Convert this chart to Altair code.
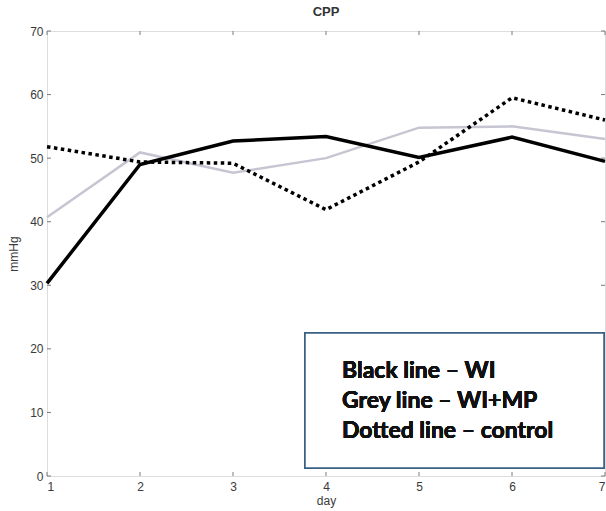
import altair as alt
import pandas as pd

days = [1, 2, 3, 4, 5, 6, 7]
wi = [30.3, 49.0, 52.7, 53.4, 50.1, 53.3, 49.5]
wi_mp = [40.7, 50.9, 47.7, 50.0, 54.8, 55.0, 53.0]
control = [51.8, 49.4, 49.2, 41.9, 49.4, 59.5, 56.0]
y_ticks = [0, 10, 20, 30, 40, 50, 60, 70]
legend_lines = ["Black line \u2013 WI", "Grey line \u2013 WI+MP", "Dotted line \u2013 control"]

W, H = 558, 445
AX = "#7a7a7a"
FONT = "Liberation Sans"
TXT = "#3a3a3a"

df = pd.DataFrame({"day": days, "WI": wi, "WI+MP": wi_mp, "control": control})
xt = pd.DataFrame({"day": days})
yt = pd.DataFrame({"v": y_ticks})

xscale = alt.Scale(domain=[1, 7], nice=False, zero=False)
yscale = alt.Scale(domain=[0, 70], nice=False)

x_enc = alt.X("day:Q", scale=xscale, title="day",
              axis=alt.Axis(values=days, tickSize=0, domain=False, grid=False,
                            labelPadding=5, titlePadding=3, format="d",
                            labelFont=FONT, labelFontSize=12, labelColor=TXT,
                            titleFont=FONT, titleFontSize=12, titleFontWeight="normal",
                            titleColor=TXT))
y_axis = alt.Axis(values=y_ticks, tickSize=0, domain=False, grid=False,
                  labelPadding=4, titlePadding=9,
                  labelFont=FONT, labelFontSize=12, labelColor=TXT,
                  titleFont=FONT, titleFontSize=12, titleFontWeight="normal",
                  titleColor=TXT)

def line(col, color, width, dash=None):
    kw = dict(color=color, strokeWidth=width, strokeCap="butt", strokeJoin="miter")
    if dash:
        kw["strokeDash"] = dash
    return alt.Chart(df).mark_line(**kw).encode(
        x=x_enc, y=alt.Y(f"{col}:Q", scale=yscale, title="mmHg", axis=y_axis))

grey = line("WI+MP", "#c6c6d3", 2.5)
black = line("WI", "#000000", 3.5)
dotted = line("control", "#000000", 3.5, [3.5, 3.5])

tick_top = alt.Chart(xt).mark_rule(color=AX, strokeWidth=1).encode(
    x=alt.X("day:Q", scale=xscale), y=alt.value(0), y2=alt.value(4))
tick_bot = alt.Chart(xt).mark_rule(color=AX, strokeWidth=1).encode(
    x=alt.X("day:Q", scale=xscale), y=alt.value(H), y2=alt.value(H - 4))
tick_left = alt.Chart(yt).mark_rule(color=AX, strokeWidth=1).encode(
    y=alt.Y("v:Q", scale=yscale), x=alt.value(0), x2=alt.value(4))
tick_right = alt.Chart(yt).mark_rule(color=AX, strokeWidth=1).encode(
    y=alt.Y("v:Q", scale=yscale), x=alt.value(W), x2=alt.value(W - 4))

box = alt.Chart(xt).mark_rect(fill="white", stroke="#3a6186", strokeWidth=1.5).encode(
    x=alt.value(258), x2=alt.value(557), y=alt.value(302), y2=alt.value(437))
legend_text = alt.Chart(xt).mark_text(
    text="\n".join(legend_lines), lineBreak="\n", lineHeight=30, align="left",
    baseline="alphabetic", font="Lato", fontSize=23, fontWeight="bold", color="#111111"
).encode(x=alt.value(295), y=alt.value(347))

chart = alt.layer(grey, black, dotted, tick_top, tick_bot, tick_left, tick_right,
                  box, legend_text).properties(
    width=W, height=H,
    title=alt.TitleParams("CPP", font=FONT, fontSize=13, fontWeight="bold",
                          color="#333333", offset=6),
    autosize=alt.AutoSizeParams(type="none"),
    padding={"left": 47, "top": 31, "right": 1, "bottom": 35},
).configure_view(stroke=AX, strokeWidth=1.2).configure(background="white")

chart.save("out.html", embed_options={"renderer": "svg", "actions": False})
